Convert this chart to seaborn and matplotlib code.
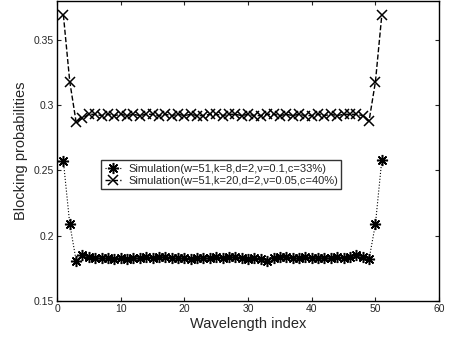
import matplotlib
matplotlib.use("Agg")
import matplotlib.pyplot as plt
import seaborn as sns
import numpy as np

sns.set_style("white")
plt.rcParams['font.family'] = ['Liberation Sans', 'DejaVu Sans']

wavelength = list(range(1, 52))
sim1 = [0.257, 0.209, 0.181, 0.185, 0.184, 0.183, 0.183, 0.183, 0.182, 0.183,
        0.182, 0.183, 0.183, 0.184, 0.183, 0.184, 0.184, 0.183, 0.183, 0.183,
        0.182, 0.183, 0.183, 0.183, 0.184, 0.183, 0.184, 0.184, 0.183, 0.182,
        0.183, 0.182, 0.181, 0.183, 0.184, 0.184, 0.183, 0.183, 0.184, 0.183,
        0.183, 0.183, 0.183, 0.184, 0.183, 0.184, 0.185, 0.184, 0.182, 0.209,
        0.258]
sim2 = [0.369, 0.318, 0.287, 0.290, 0.293, 0.293, 0.292, 0.293, 0.292, 0.293,
        0.292, 0.293, 0.292, 0.293, 0.293, 0.292, 0.293, 0.292, 0.293, 0.292,
        0.293, 0.292, 0.292, 0.293, 0.293, 0.292, 0.293, 0.293, 0.292, 0.293,
        0.292, 0.292, 0.293, 0.293, 0.292, 0.293, 0.292, 0.293, 0.292, 0.292,
        0.293, 0.292, 0.293, 0.292, 0.293, 0.293, 0.293, 0.292, 0.288, 0.318,
        0.369]
label1 = "Simulation(w=51,k=8,d=2,\u03bd=0.1,c=33%)"
label2 = "Simulation(w=51,k=20,d=2,\u03bd=0.05,c=40%)"

fig = plt.figure(figsize=(4.49, 3.44), dpi=100)
ax = fig.add_axes([0.127, 0.125, 0.851, 0.873])

sns.lineplot(x=wavelength, y=sim1, ax=ax, color='black', linestyle=':', linewidth=0.8,
             marker=(8, 2, 0), markersize=8, markeredgewidth=1.1, markeredgecolor='black',
             label=label1)
sns.lineplot(x=wavelength, y=sim2, ax=ax, color='black', linestyle='--', linewidth=1.0,
             marker='x', markersize=6.5, markeredgewidth=1.1, markeredgecolor='black',
             label=label2)

ax.set_xlim(0, 60)
ax.set_ylim(0.15, 0.38)
ax.set_xticks([0, 10, 20, 30, 40, 50, 60])
ax.set_yticks([0.15, 0.2, 0.25, 0.3, 0.35])
ax.set_yticklabels(['0.15', '0.2', '0.25', '0.3', '0.35'])
ax.tick_params(axis='both', labelsize=7.5, direction='in', length=3, width=0.8,
               top=True, right=True, bottom=True, left=True, pad=2)
for s in ax.spines.values():
    s.set_color('black')
    s.set_linewidth(1.0)
ax.set_xlabel("Wavelength index", fontsize=10.5, labelpad=2)
ax.set_ylabel("Blocking probabilities", fontsize=10.5, labelpad=4)

leg = ax.legend(loc='center', bbox_to_anchor=(0.43, 0.42), fontsize=8, frameon=True,
                fancybox=False, edgecolor='black', handlelength=1.5, borderpad=0.3,
                labelspacing=0.2, handletextpad=0.6, borderaxespad=0)
leg.get_frame().set_linewidth(1.0)

fig.savefig("out.png", dpi=100)
